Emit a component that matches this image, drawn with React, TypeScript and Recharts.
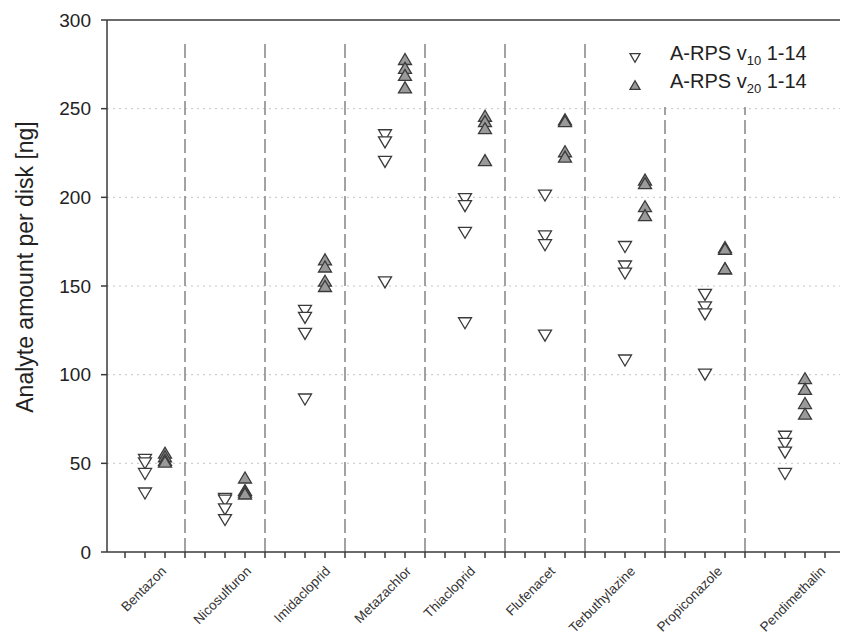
import { ScatterChart, Scatter, XAxis, YAxis, CartesianGrid, ReferenceLine } from "recharts";

const categories = [
  "Bentazon",
  "Nicosulfuron",
  "Imidacloprid",
  "Metazachlor",
  "Thiacloprid",
  "Flufenacet",
  "Terbuthylazine",
  "Propiconazole",
  "Pendimethalin",
];

// A-RPS v10 1-14 (open, pointing down)
const v10 = [
  [52, 50, 44, 33],
  [30, 29, 24, 18],
  [136, 132, 123, 86],
  [235, 231, 220, 152],
  [199, 195, 180, 129],
  [201, 178, 173, 122],
  [172, 161, 157, 108],
  [145, 138, 134, 100],
  [65, 61, 56, 44],
];

// A-RPS v20 1-14 (filled, pointing up)
const v20 = [
  [56, 54, 52, 51],
  [42, 35, 34, 33],
  [165, 161, 153, 150],
  [278, 273, 269, 262],
  [246, 243, 239, 221],
  [244, 243, 226, 223],
  [210, 208, 195, 190],
  [172, 171, 160, 160],
  [98, 92, 84, 78],
];

// where each rotated category label ends, in x-axis units
const labelTicks = [3.1, 7.35, 11.3, 15.35, 18.55, 22.55, 26.55, 30.9, 36.05];
// top of each dashed separator (y units)
const dividerTops = [288, 288, 288, 288, 288, 288, 251, 251];
const yTicks = [0, 50, 100, 150, 200, 250, 300];

const X_MIN = 0.1;
const X_MAX = 36.95;
const Y_MAX = 300;
const SLOT = 4; // x units per category

const font = '"Liberation Sans", Arial, sans-serif';
const dark = "#3a3a3a";

const v10Points = v10.flatMap((vals, i) => vals.map((y) => ({ x: i * SLOT + 2, y })));
const v20Points = v20.flatMap((vals, i) => vals.map((y) => ({ x: i * SLOT + 3, y })));
const minorTicks = Array.from({ length: 36 }, (_, i) => i + 1);
const xTicks = [...minorTicks, ...labelTicks].sort((a, b) => a - b);

function Tri({ cx, cy, up, w = 6.5, h = 5.5 }: any) {
  const pts = up
    ? `${cx - w},${cy + h} ${cx + w},${cy + h} ${cx},${cy - h}`
    : `${cx - w},${cy - h} ${cx + w},${cy - h} ${cx},${cy + h}`;
  return <polygon points={pts} fill={up ? "#9a9a9a" : "#fff"} stroke={dark} strokeWidth={1.3} />;
}

function XTick({ x, y, payload }: any) {
  const v = payload.value;
  const idx = labelTicks.indexOf(v);
  if (idx < 0) {
    return <line x1={x} x2={x} y1={y - 8} y2={y - 2} stroke={dark} strokeWidth={1.5} />;
  }
  const ty = y + 12;
  return (
    <text
      x={x}
      y={ty}
      textAnchor="end"
      fontSize={13.5}
      fontFamily={font}
      fill="#333"
      transform={`rotate(-45, ${x}, ${ty})`}
    >
      {categories[idx]}
    </text>
  );
}

function LegendBox() {
  const row = (up: boolean, sub: string) => (
    <div style={{ display: "flex", alignItems: "center", height: 28 }}>
      <svg width={12} height={12} style={{ marginRight: 29, marginTop: up ? 4 : 6 }}>
        <Tri cx={6} cy={6} up={up} w={5} h={4.3} />
      </svg>
      <span>
        A-RPS v<sub style={{ fontSize: 13 }}>{sub}</sub> 1-14
      </span>
    </div>
  );
  return (
    <div style={{ fontFamily: font, fontSize: 20, color: "#222", lineHeight: 1 }}>
      {row(false, "10")}
      {row(true, "20")}
    </div>
  );
}

export default function App() {
  return (
    <div style={{ position: "relative", width: 840, height: 626, fontFamily: font }}>
      <ScatterChart width={840} height={626} margin={{ top: 12, right: 4, bottom: 12, left: 29 }}>
        <CartesianGrid vertical={false} horizontalValues={[50, 100, 150, 200, 250]} stroke="#c4c4c4" strokeDasharray="2 4" />
        <XAxis
          type="number"
          dataKey="x"
          domain={[X_MIN, X_MAX]}
          ticks={xTicks}
          interval={0}
          height={70}
          tickSize={6}
          tickMargin={2}
          tickLine={false}
          tick={<XTick />}
          axisLine={{ stroke: dark, strokeWidth: 1.5 }}
          allowDataOverflow
        />
        <YAxis
          type="number"
          dataKey="y"
          domain={[0, Y_MAX]}
          ticks={yTicks}
          interval={0}
          width={70}
          tickSize={6}
          tickMargin={10}
          tick={{ fill: "#222", fontSize: 19, fontFamily: font }}
          tickLine={{ stroke: dark, strokeWidth: 1.5 }}
          axisLine={{ stroke: dark, strokeWidth: 1.5 }}
          allowDataOverflow
        />
        <ReferenceLine y={Y_MAX} stroke={dark} strokeWidth={1.5} />
        <ReferenceLine x={X_MAX} stroke={dark} strokeWidth={1.5} />
        {dividerTops.map((top, i) => (
          <ReferenceLine
            key={i}
            segment={[
              { x: (i + 1) * SLOT, y: 0 },
              { x: (i + 1) * SLOT, y: top },
            ]}
            stroke="#8c8c8c"
            strokeWidth={1.6}
            strokeDasharray="14 5"
          />
        ))}
        <Scatter name="v10" data={v10Points} shape={(p: any) => <Tri cx={p.cx} cy={p.cy} up={false} />} isAnimationActive={false} />
        <Scatter name="v20" data={v20Points} shape={(p: any) => <Tri cx={p.cx} cy={p.cy} up />} isAnimationActive={false} />
      </ScatterChart>
      <div style={{ position: "absolute", top: 33, left: 621 }}>
        <LegendBox />
      </div>
      <div
        style={{
          position: "absolute",
          left: 17,
          top: 259,
          transform: "translate(-50%, -50%) rotate(-90deg)",
          whiteSpace: "nowrap",
          fontSize: 23,
          color: "#222",
        }}
      >
        Analyte amount per disk [ng]
      </div>
    </div>
  );
}
